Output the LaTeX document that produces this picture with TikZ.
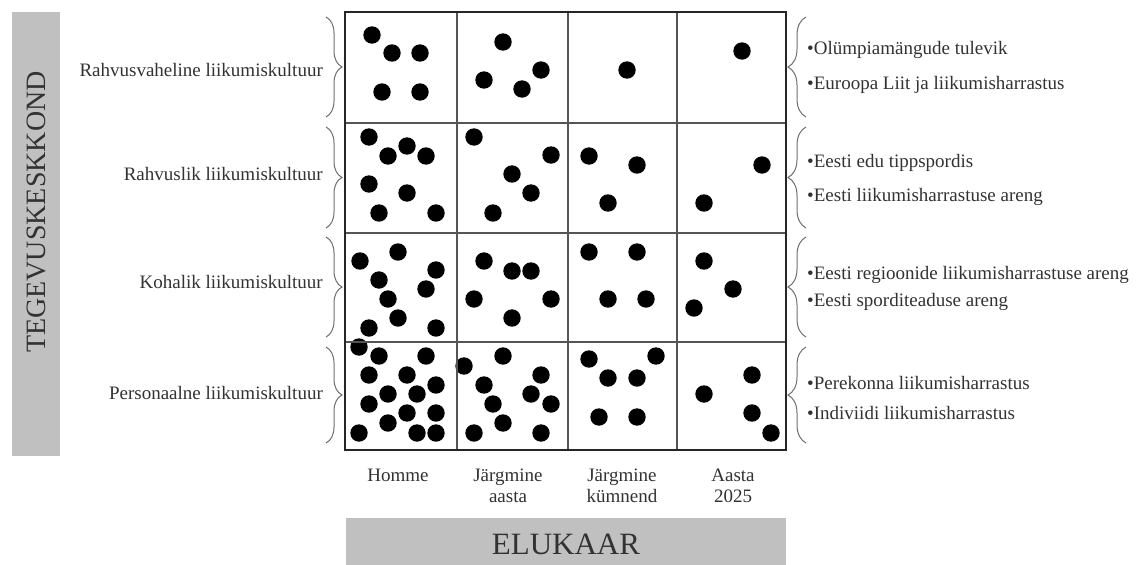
\documentclass[tikz,border=0pt]{standalone}
\usepackage{fontspec}
\setmainfont{Liberation Serif}
\usetikzlibrary{decorations.pathreplacing}
\definecolor{bargray}{RGB}{192,192,192}
\definecolor{inkgray}{RGB}{50,50,50}
\definecolor{gridgray}{RGB}{85,85,85}
\definecolor{bracegray}{RGB}{110,110,110}

\begin{document}
\begin{tikzpicture}[x=1pt,y=-1pt,
  smalltxt/.style={inner sep=0pt,text=inkgray,font=\fontsize{19}{21}\selectfont},
  rowlabel/.style={smalltxt,anchor=east},
  goal/.style={smalltxt,anchor=west},
  collabel/.style={smalltxt,align=center,anchor=north},
  leftbrace/.style={decorate,decoration={brace,amplitude=16pt},bracegray,line width=1pt},
  rightbrace/.style={decorate,decoration={brace,amplitude=18pt},bracegray,line width=1pt}]
  \useasboundingbox (0,0) rectangle (1144,565);

  % Axis bars: activity setting (vertical) and life span (horizontal).
  \fill[bargray] (12,12) rectangle (60,456);
  \node[rotate=90,text=inkgray,font=\fontsize{28}{30}\selectfont] (setting) at (36,212) {TEGEVUSKESKKOND};
  \fill[bargray] (346,518) rectangle (786,565);
  \node[text=inkgray,font=\fontsize{31}{33}\selectfont] (lifespan) at (566,544) {ELUKAAR};

  % Dots per cell, row by row.
  \foreach \x/\y in {372/35,392/53,420/53,382/92,420/92,
                     503/42,484/80,541/70,522/89, 627/70, 742/51}
    \fill (\x,\y) circle (8.7pt);
  \foreach \x/\y in {369/137,388/156,407/146,426/156,369/184,407/193,379/213,436/213,
                     474/137,551/155,512/174,531/193,493/213,
                     589/156,637/165,608/203, 762/165,704/203}
    \fill (\x,\y) circle (8.7pt);
  \foreach \x/\y in {360/261,398/252,436/270,379/280,426/289,388/299,398/318,369/328,436/328,
                     484/261,512/271,531/271,474/299,551/299,512/318,
                     589/252,637/252,608/299,646/299, 704/261,733/289,694/308}
    \fill (\x,\y) circle (8.7pt);
  \foreach \x/\y in {359/347,379/356,426/356,369/375,407/375,436/385,388/394,417/394,
                     369/404,407/413,436/413,388/423,359/433,417/433,436/433,
                     464/366,503/356,541/375,484/385,531/394,493/404,551/404,503/423,474/433,541/433,
                     589/359,656/356,608/378,637/378,599/417,637/417,
                     752/375,704/394,752/413,771/433}
    \fill (\x,\y) circle (8.7pt);

  % Grid.
  \foreach \x in {457,568,677}
    \draw[gridgray,line width=1.6pt] (\x,12) -- (\x,450);
  \foreach \y in {123,233,342}
    \draw[gridgray,line width=1.6pt] (345,\y) -- (786,\y);
  \draw[black!85,line width=2.6pt] (345,12) rectangle (786,450);

  % Braces on both sides of each row.
  \foreach \a/\b in {17/117,127/228,237/337,347/443} {
    \draw[leftbrace] (326,\a) -- (326,\b);
    \draw[rightbrace] (806,\b) -- (806,\a);
  }

  % Row labels.
  \node[rowlabel] (intl)  at (323,70)  {Rahvusvaheline liikumiskultuur};
  \node[rowlabel] (natl)  at (323,174) {Rahvuslik liikumiskultuur};
  \node[rowlabel] (local) at (323,282) {Kohalik liikumiskultuur};
  \node[rowlabel] (pers)  at (323,393) {Personaalne liikumiskultuur};

  % Goals to the right.
  \node[goal] (olymp)  at (807,50)  {•Olümpiamängude tulevik};
  \node[goal] (eu)     at (807,85)  {•Euroopa Liit ja liikumisharrastus};
  \node[goal] (elite)  at (807,163) {•Eesti edu tippspordis};
  \node[goal] (sport)  at (807,197) {•Eesti liikumisharrastuse areng};
  \node[goal] (region) at (807,275) {•Eesti regioonide liikumisharrastuse areng};
  \node[goal] (science) at (807,302) {•Eesti sporditeaduse areng};
  \node[goal] (family) at (807,383) {•Perekonna liikumisharrastus};
  \node[goal] (indiv)  at (807,413) {•Indiviidi liikumisharrastus};

  % Time labels.
  \node[collabel] (tomorrow) at (398,469) {Homme};
  \node[collabel] (nextyear) at (508,469) {Järgmine\\aasta};
  \node[collabel] (decade)   at (622,469) {Järgmine\\kümnend};
  \node[collabel] (year2025) at (733,469) {Aasta\\2025};
\end{tikzpicture}
\end{document}
